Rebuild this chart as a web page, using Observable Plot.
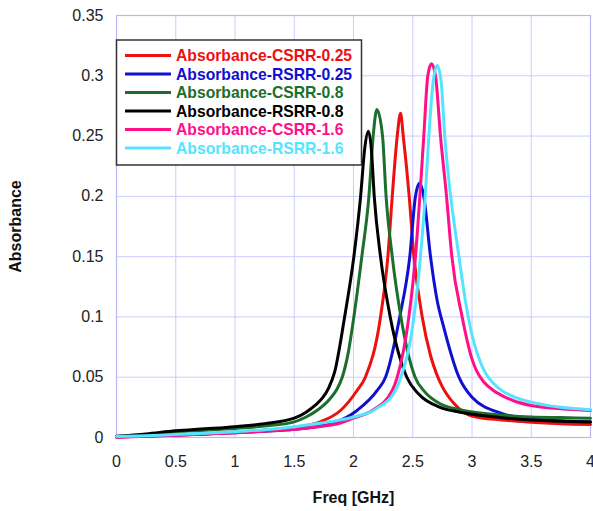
<!DOCTYPE html>
<html>
<head>
<meta charset="utf-8">
<script src="https://cdn.jsdelivr.net/npm/d3@7"></script>
<script src="https://cdn.jsdelivr.net/npm/@observablehq/plot@0.6"></script>
<style>
  html, body { margin: 0; padding: 0; background: #fff; }
  #chart svg { display: block; }
</style>
</head>
<body>
<div id="chart"></div>
<script>
// Absorbance spectra of CSRR / RSRR resonators for three substrate thicknesses.

const xTicks = [0, 0.5, 1, 1.5, 2, 2.5, 3, 3.5, 4];
const xTickLabels = ["0", "0.5", "1", "1.5", "2", "2.5", "3", "3.5", "4"];
const yTicks = [0, 0.05, 0.1, 0.15, 0.2, 0.25, 0.3, 0.35];
const yTickLabels = ["0", "0.05", "0.1", "0.15", "0.2", "0.25", "0.3", "0.35"];

const seriesNames = [
  "Absorbance-CSRR-0.25",
  "Absorbance-RSRR-0.25",
  "Absorbance-CSRR-0.8",
  "Absorbance-RSRR-0.8",
  "Absorbance-CSRR-1.6",
  "Absorbance-RSRR-1.6"
];
const seriesColors = ["#ec1010", "#1010d0", "#1c6e2c", "#000000", "#ff1088", "#55e4ff"];

// Freq [GHz] and absorbance for each series
const freqCSRR025 = [0, 0.25, 0.5, 0.75, 1, 1.25, 1.5, 1.72, 1.89, 2.03, 2.1, 2.228, 2.29, 2.327, 2.369, 2.397, 2.42, 2.47, 2.51, 2.58, 2.65, 2.7, 2.75, 2.85, 3, 3.25, 3.5, 3.75, 4];
const absCSRR025  = [0.0005, 0.0012, 0.002, 0.003, 0.0045, 0.006, 0.0085, 0.013, 0.0224, 0.039, 0.05, 0.1, 0.15, 0.2, 0.25, 0.269, 0.25, 0.2, 0.15, 0.1, 0.068, 0.053, 0.042, 0.028, 0.0178, 0.0145, 0.0127, 0.0115, 0.0108];

const freqRSRR025 = [0, 0.25, 0.5, 0.75, 1, 1.25, 1.5, 1.83, 2.03, 2.2, 2.27, 2.39, 2.475, 2.523, 2.557, 2.593, 2.65, 2.706, 2.76, 2.89, 3, 3.25, 3.5, 3.75, 4];
const absRSRR025  = [0.0005, 0.0012, 0.002, 0.003, 0.004, 0.0052, 0.0068, 0.012, 0.0224, 0.039, 0.05, 0.1, 0.15, 0.2, 0.211, 0.2, 0.15, 0.1136, 0.092, 0.05, 0.0334, 0.02, 0.0155, 0.0138, 0.0127];

const freqCSRR08 = [0, 0.25, 0.5, 0.75, 1, 1.25, 1.5, 1.6, 1.7, 1.8, 1.86, 1.905, 1.955, 2.003, 2.07, 2.13, 2.166, 2.197, 2.245, 2.275, 2.327, 2.4, 2.52, 2.6, 2.73, 2.9, 3.2, 3.5, 3.75, 4];
const absCSRR08  = [0.0008, 0.002, 0.0045, 0.006, 0.0075, 0.0095, 0.013, 0.017, 0.023, 0.032, 0.04, 0.05, 0.07, 0.1, 0.15, 0.2, 0.25, 0.272, 0.25, 0.2, 0.15, 0.1, 0.05, 0.038, 0.028, 0.023, 0.019, 0.017, 0.0165, 0.016];

const freqRSRR08 = [0, 0.25, 0.5, 0.75, 1, 1.25, 1.5, 1.6, 1.68, 1.74, 1.79, 1.84, 1.925, 2.003, 2.06, 2.095, 2.125, 2.15, 2.175, 2.228, 2.31, 2.45, 2.55, 2.73, 2.9, 3.2, 3.5, 3.75, 4];
const absRSRR08  = [0.001, 0.003, 0.0055, 0.0072, 0.009, 0.0115, 0.016, 0.021, 0.027, 0.033, 0.041, 0.054, 0.1, 0.15, 0.2, 0.24, 0.254, 0.24, 0.2, 0.15, 0.1, 0.05, 0.036, 0.025, 0.021, 0.017, 0.0145, 0.0135, 0.013];

const freqCSRR16 = [0, 0.25, 0.5, 0.75, 1, 1.25, 1.5, 1.75, 1.89, 2.0, 2.158, 2.327, 2.369, 2.467, 2.523, 2.56, 2.593, 2.627, 2.658, 2.692, 2.734, 2.785, 2.83, 2.917, 2.96, 3.0, 3.04, 3.1, 3.18, 3.25, 3.35, 3.5, 3.75, 4];
const absCSRR16  = [0.0003, 0.001, 0.0018, 0.0028, 0.004, 0.0052, 0.0068, 0.0095, 0.012, 0.016, 0.0224, 0.039, 0.05, 0.1, 0.15, 0.2, 0.25, 0.3, 0.31, 0.3, 0.25, 0.2, 0.15, 0.1, 0.08, 0.065, 0.055, 0.046, 0.039, 0.035, 0.0305, 0.0265, 0.0238, 0.0224];

const freqRSRR16 = [0, 0.25, 0.5, 0.75, 1, 1.25, 1.5, 1.8, 2.0, 2.186, 2.354, 2.4, 2.51, 2.565, 2.605, 2.636, 2.672, 2.706, 2.74, 2.77, 2.805, 2.89, 2.95, 3.0, 3.05, 3.11, 3.18, 3.25, 3.35, 3.5, 3.75, 4];
const absRSRR16  = [0.0008, 0.0015, 0.0025, 0.0035, 0.0048, 0.0065, 0.009, 0.013, 0.017, 0.0235, 0.039, 0.05, 0.1, 0.15, 0.2, 0.25, 0.295, 0.3085, 0.295, 0.25, 0.213, 0.15, 0.11, 0.085, 0.068, 0.054, 0.045, 0.039, 0.034, 0.0293, 0.025, 0.023];

const seriesFreq = [freqCSRR025, freqRSRR025, freqCSRR08, freqRSRR08, freqCSRR16, freqRSRR16];
const seriesAbs  = [absCSRR025, absRSRR025, absCSRR08, absRSRR08, absCSRR16, absRSRR16];

// Long-format table for Plot
const rows = seriesNames.flatMap((name, s) =>
  seriesFreq[s].map((f, i) => ({series: name, freq: f, abs: seriesAbs[s][i]}))
);

const gridColor = "#ccccff";
const fontFamily = "'Liberation Sans', Arial, sans-serif";

const chart = Plot.plot({
  width: 593,
  height: 511,
  marginLeft: 116,
  marginRight: 3,
  marginTop: 15,
  marginBottom: 74,
  style: {fontFamily, fontSize: "16px", color: "#222", background: "#fff"},
  x: {domain: [0, 4]},
  y: {domain: [0, 0.35]},
  color: {domain: seriesNames, range: seriesColors},
  marks: [
    Plot.gridX(xTicks, {stroke: gridColor, strokeOpacity: 1, strokeWidth: 1}),
    Plot.gridY(yTicks, {stroke: gridColor, strokeOpacity: 1, strokeWidth: 1}),
    Plot.frame({stroke: "#b8b8f4", strokeWidth: 1.2}),
    Plot.axisX({ticks: xTicks, tickFormat: (d, i) => xTickLabels[i], tickSize: 0, tickPadding: 18, label: null, fontSize: 16}),
    Plot.axisY({ticks: yTicks, tickFormat: (d, i) => yTickLabels[i], tickSize: 0, tickPadding: 13, label: null, fontSize: 16}),
    Plot.line(rows, {x: "freq", y: "abs", z: "series", stroke: "series", strokeWidth: 3, curve: "monotone-x"}),
    Plot.text(["Absorbance"], {frameAnchor: "left", dx: -101, rotate: -90, textAnchor: "middle", lineAnchor: "middle", fontWeight: "bold", fontSize: 16, fill: "#111"}),
    Plot.text(["Freq [GHz]"], {frameAnchor: "bottom", dy: 60, textAnchor: "middle", lineAnchor: "middle", fontWeight: "bold", fontSize: 16, fill: "#111"})
  ]
});

// Legend box in the upper-left of the plotting area
const svg = d3.select(chart);
const legend = svg.append("g").attr("transform", "translate(116.5,40)");
legend.append("rect")
  .attr("width", 245).attr("height", 125)
  .attr("fill", "#fff").attr("stroke", "#333").attr("stroke-width", 1.5);
seriesNames.forEach((name, i) => {
  const y = 15.5 + i * 18.5;
  legend.append("line")
    .attr("x1", 8.5).attr("x2", 54.5).attr("y1", y).attr("y2", y)
    .attr("stroke", seriesColors[i]).attr("stroke-width", 3);
  legend.append("text")
    .attr("x", 59.5).attr("y", y).attr("dy", "0.36em")
    .attr("text-anchor", "start")
    .attr("fill", seriesColors[i])
    .attr("font-family", fontFamily)
    .attr("font-weight", "bold").attr("font-size", 15.7)
    .text(name);
});

document.getElementById("chart").appendChild(chart);
</script>
</body>
</html>
